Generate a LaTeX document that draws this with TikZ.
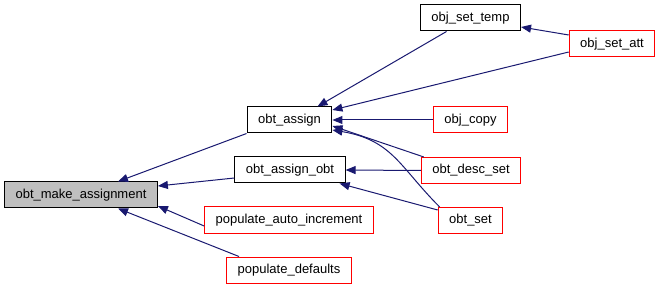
\documentclass[tikz,border=0pt]{standalone}
\usepackage{fontspec}
\setmainfont{Liberation Sans}
\usetikzlibrary{arrows.meta}
\definecolor{edgeblue}{RGB}{25, 25, 112}
\definecolor{rootgray}{RGB}{191,191,191}
\definecolor{undocred}{RGB}{255, 0, 0}

\begin{document}
\begin{tikzpicture}[x=1pt, y=-1pt, line width=1pt,
        box/.style = {text=black, rectangle, minimum height=26pt, inner xsep=11pt, font=\fontsize{13}{15}\selectfont},
        main/.style = {box, draw=black, fill=white},
        selected/.style = {box, draw=black, fill=rootgray},
        undoc/.style = {box, draw=undocred, fill=white},
        call/.style = {{Triangle[length=10pt,width=8pt]}-, draw=edgeblue}]
    \useasboundingbox (0,0) rectangle (661,291);
    \node[selected] (1) at (81,195) {obt\_make\_assignment};
    \node[main]  (2) at (289.5,120) {obt\_assign};
    \node[main]  (3) at (290,170) {obt\_assign\_obt};
    \node[undoc] (4) at (289,220) {populate\_auto\_increment};
    \node[undoc] (5) at (289,270) {populate\_defaults};
    \node[main]  (6) at (470.5,18) {obj\_set\_temp};
    \node[undoc] (7) at (612,44) {obj\_set\_att};
    \node[undoc] (8) at (470.5,120) {obj\_copy};
    \node[undoc] (9) at (471,170.5) {obt\_desc\_set};
    \node[undoc] (10) at (470.5,220.5) {obt\_set};
    % callers of obt_make_assignment
    \draw[call] ([xshift=37pt]1.north) -- (2.south west);
    \draw[call] ([yshift=9pt]1.east) -- ([yshift=-8pt]3.west);
    \draw[call] ([yshift=-11pt]1.east) -- ([yshift=-6pt]4.west);
    \draw[call] ([xshift=37pt]1.south) -- ([xshift=-50pt]5.north);
    % callers of obt_assign
    \draw[call] ([xshift=28pt]2.north) -- ([xshift=-24pt]6.south);
    \draw[call] ([yshift=10pt]2.east) -- ([yshift=-8pt]7.west);
    \draw[call] (2.east) -- (8.west);
    \draw[call] ([yshift=-6pt]2.east) -- ([xshift=3pt]9.north west);
    \draw[call] ([yshift=-10pt]2.east) .. controls +(60,10) and +(-40,-40) .. ([xshift=2pt]10.north west);
    \draw[call] ([yshift=-9pt]6.east) -- ([yshift=9pt]7.west);
    % callers of obt_assign_obt
    \draw[call] (3.east) -- (9.west);
    \draw[call] ([xshift=-6pt]3.south east) -- ([yshift=-3pt]10.north west);
\end{tikzpicture}
\end{document}
